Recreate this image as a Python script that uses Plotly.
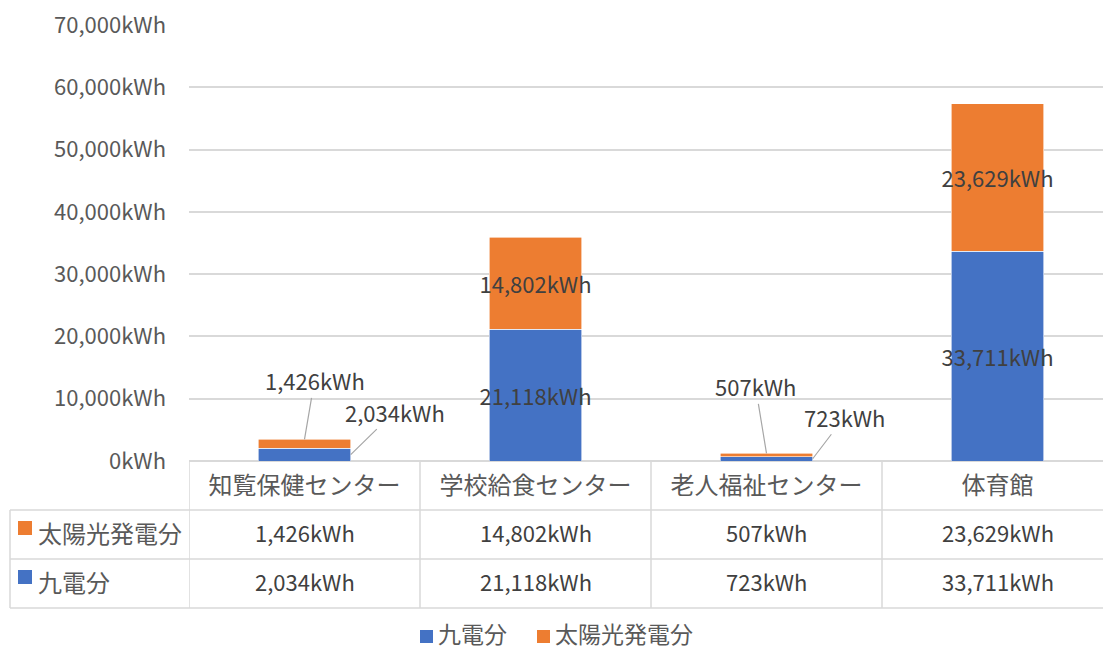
import plotly.graph_objects as go

categories = ["知覧保健センター", "学校給食センター", "老人福祉センター", "体育館"]
kyuden = [2034, 21118, 723, 33711]
solar = [1426, 14802, 507, 23629]
series_names = ["九電分", "太陽光発電分"]
colors = ["#4472C4", "#ED7D31"]
y_ticks = [0, 10000, 20000, 30000, 40000, 50000, 60000, 70000]

FONT = "Noto Sans CJK JP"
FSN = 22   # numeric text
FSJ = 24   # japanese text
W, H = 1103, 653
L, T, B = 189, 25, 192
PW = W - L
PH = H - T - B
CATW = 231.0
xr_max = -0.5 + PW / CATW


def px(xp):
    return (xp - L) / PW


def py(yp):
    return (H - B - yp) / PH


def fmt(v):
    return f"{v:,}kWh"


def inside_text(vals):
    return [fmt(v) if v > 5000 else "" for v in vals]


fig = go.Figure()
for vals, name, col in [(kyuden, series_names[0], colors[0]), (solar, series_names[1], colors[1])]:
    fig.add_bar(x=categories, y=vals, name=name, marker_color=col,
                marker_line=dict(width=0.6, color="white"),
                text=inside_text(vals), textposition="inside", insidetextanchor="middle",
                textangle=0, constraintext="none",
                textfont=dict(family=FONT, size=FSN, color="#404040"), width=0.4)

# leader-line labels for the small bars
offsets = {
    (0, "solar"): (10, -59),
    (0, "kyuden"): (44, -43),
    (2, "solar"): (-11, -67),
    (2, "kyuden"): (32, -42),
}
for (i, s), (ax, ay) in offsets.items():
    if s == "solar":
        xv, yv, txt = i, kyuden[i] + solar[i], fmt(solar[i])
    else:
        xv, yv, txt = i + 0.2, kyuden[i] / 2, fmt(kyuden[i])
    fig.add_annotation(x=xv, y=yv, xref="x", yref="y", text=txt, showarrow=True,
                       arrowhead=0, arrowwidth=1.2, arrowcolor="#a6a6a6", ax=ax, ay=ay,
                       standoff=0, startstandoff=0,
                       font=dict(family=FONT, size=FSN, color="#404040"))

line_col = "#d9d9d9"
lw = 1.5
# table lines
y_hdr_bot = py(510)
y_r1 = py(559)
y_r2 = py(608)
x_left = px(10)
for yy in [y_hdr_bot, y_r1, y_r2]:
    fig.add_shape(type="line", xref="paper", yref="paper", x0=x_left, x1=1.02, y0=yy, y1=yy,
                  line=dict(color=line_col, width=lw), layer="above")
fig.add_shape(type="line", xref="paper", yref="paper", x0=x_left, x1=x_left, y0=y_hdr_bot, y1=y_r2,
              line=dict(color=line_col, width=lw))
for k in range(len(categories)):
    fig.add_shape(type="line", xref="x", yref="paper", x0=k - 0.5, x1=k - 0.5, y0=0, y1=y_r2,
                  line=dict(color=line_col, width=lw))

# row labels with keys
rows = [(series_names[1], colors[1], solar, 532, 528), (series_names[0], colors[0], kyuden, 581, 577)]
for name, col, vals, yc, ysq in rows:
    fig.add_shape(type="rect", xref="paper", yref="paper", x0=px(18), x1=px(32),
                  y0=py(ysq + 7), y1=py(ysq - 7), fillcolor=col, line=dict(width=0))
    fig.add_annotation(x=px(36), y=py(yc), xref="paper", yref="paper", text=name,
                       showarrow=False, xanchor="left", yanchor="middle",
                       font=dict(family=FONT, size=FSJ, color="#595959"))
    for k, v in enumerate(vals):
        fig.add_annotation(x=k, y=py(yc), xref="x", yref="paper", text=fmt(v),
                           showarrow=False, xanchor="center", yanchor="middle",
                           font=dict(family=FONT, size=FSN, color="#404040"))

# bottom legend
leg = [(series_names[0], colors[0], 420), (series_names[1], colors[1], 537)]
for name, col, x0 in leg:
    fig.add_shape(type="rect", xref="paper", yref="paper", x0=px(x0), x1=px(x0 + 13),
                  y0=py(643), y1=py(630), fillcolor=col, line=dict(width=0))
    fig.add_annotation(x=px(x0 + 16), y=py(652), xref="paper", yref="paper", text=name,
                       showarrow=False, xanchor="left", yanchor="bottom",
                       font=dict(family=FONT, size=23, color="#595959"))

fig.update_layout(
    width=W, height=H, barmode="stack",
    margin=dict(l=L, r=0, t=T, b=B, pad=0, autoexpand=False),
    paper_bgcolor="white", plot_bgcolor="white",
    font=dict(family=FONT, size=FSN, color="#595959"),
    showlegend=False,
    xaxis=dict(range=[-0.5, xr_max], showgrid=False, showline=False, zeroline=False,
               ticks="", tickfont=dict(family=FONT, size=FSJ, color="#595959"),
               ticklabelstandoff=8, fixedrange=True, automargin=False),
    yaxis=dict(range=[0, 70000], tickvals=y_ticks, ticktext=[fmt(v) for v in y_ticks],
               showgrid=True, gridcolor=line_col, gridwidth=lw, zeroline=True,
               zerolinecolor=line_col, zerolinewidth=lw, showline=False, ticks="",
               ticklabelstandoff=22, automargin=False, fixedrange=True,
               tickfont=dict(family=FONT, size=FSN, color="#595959")),
)

fig.write_html("out.html", config={"displayModeBar": False},
               post_script="document.body.style.margin='0';document.body.style.padding='0';")
